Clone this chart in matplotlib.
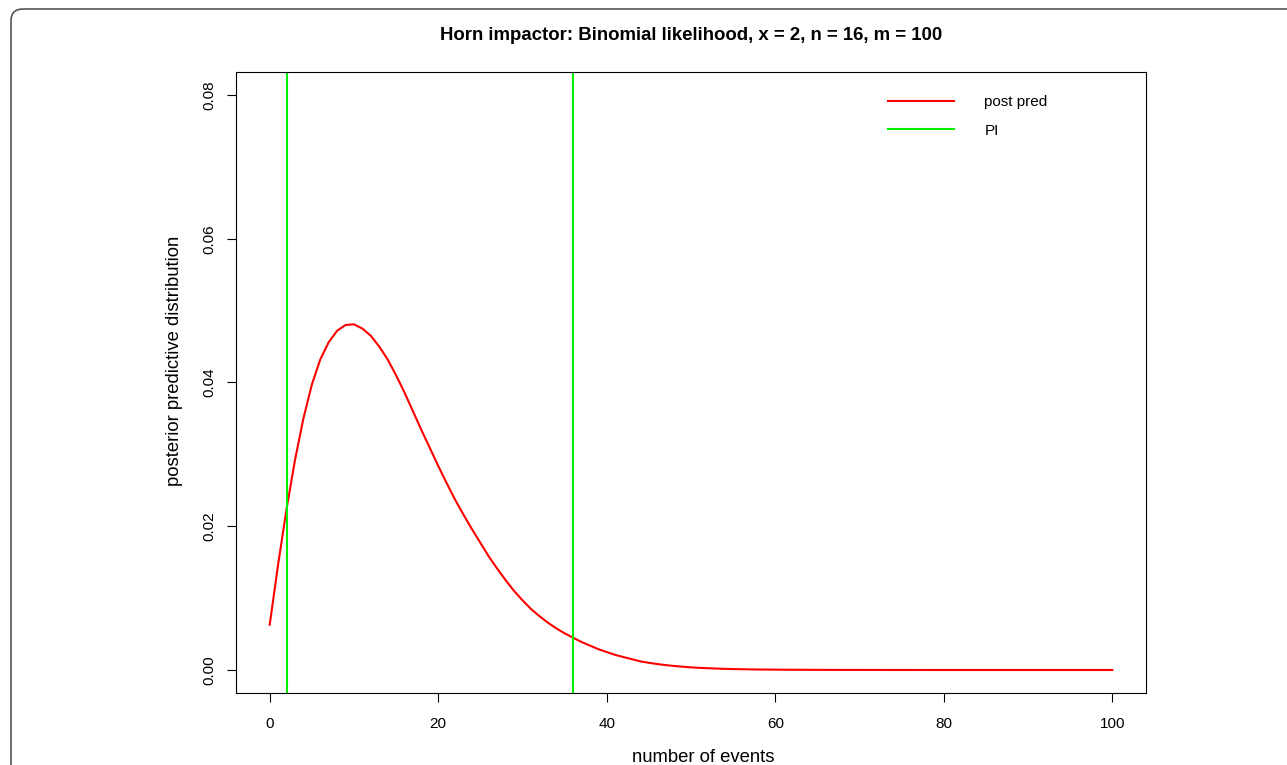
import matplotlib
matplotlib.use("Agg")
import matplotlib.pyplot as plt
from matplotlib.patches import FancyBboxPatch
from matplotlib.transforms import IdentityTransform

plt.rcParams['font.family'] = ['Liberation Sans', 'DejaVu Sans']

# number of events 0..100 and posterior predictive probability
events = list(range(0, 101))
post_pred = [
    0.0063, 0.0147, 0.0224, 0.0292, 0.0350, 0.0397, 0.0432, 0.0456, 0.0472, 0.0480,
    0.0481, 0.0475, 0.0465, 0.0450, 0.0432, 0.0410, 0.0386, 0.0360, 0.0334, 0.0309,
    0.0284, 0.0260, 0.0237, 0.0216, 0.0196, 0.0177, 0.0158, 0.0141, 0.0125, 0.0110,
    0.0097, 0.0085, 0.0075, 0.0066, 0.0058, 0.0051, 0.0045, 0.0039, 0.0034, 0.0029,
    0.0025, 0.0021, 0.0018, 0.0015, 0.0012, 0.0010, 0.00083, 0.00068, 0.00056, 0.00046,
    0.00037, 0.0003, 0.00025, 0.0002, 0.00016, 0.00013, 0.00011, 0.00009, 0.00007, 0.00006,
    0.00005, 0.00004, 0.000035, 0.00003, 0.000025, 0.00002, 0.000016, 0.000013, 0.00001, 0.000008,
    0.000007, 0.000006, 0.000005, 0.000004, 0.000003, 0.000003, 0.000002, 0.000002, 0.000002, 0.000001,
    0.000001, 0.000001, 0.000001, 0.000001, 0.0, 0.0, 0.0, 0.0, 0.0, 0.0,
    0.0, 0.0, 0.0, 0.0, 0.0, 0.0, 0.0, 0.0, 0.0, 0.0, 0.0,
]
pi_bounds = [2, 36]

x_ticks = [0, 20, 40, 60, 80, 100]
y_ticks = [0.00, 0.02, 0.04, 0.06, 0.08]

fig = plt.figure(figsize=(12.87, 7.65), dpi=100)

# rounded frame around the figure (runs off the right and bottom edge), pixel coords
frame = FancyBboxPatch((11, -100), 1400, 765 - 9 + 100,
                       boxstyle="round,pad=0,rounding_size=12",
                       transform=IdentityTransform(), fill=False,
                       edgecolor="#555555", linewidth=1.2)
fig.patches.append(frame)

ax = fig.add_axes([236 / 1287, 1 - 693 / 765, 910 / 1287, 621 / 765])

ax.plot(events, post_pred, color="red", linewidth=1.5, label="post pred")
for i, b in enumerate(pi_bounds):
    ax.axvline(b, color="#00ee00", linewidth=1.5, label="PI" if i == 0 else None)

ax.set_xlim(-4, 104)
ax.set_ylim(-0.0032, 0.0832)
ax.set_xticks(x_ticks)
ax.set_xticklabels([str(v) for v in x_ticks])
ax.set_yticks(y_ticks)
ax.set_yticklabels([f"{v:.2f}" for v in y_ticks], rotation=90, va="center")
ax.tick_params(axis="both", direction="out", length=6.5, width=0.8, labelsize=11)
ax.tick_params(axis="x", pad=11)
ax.tick_params(axis="y", pad=7.5)
for s in ax.spines.values():
    s.set_linewidth(0.8)

ax.set_xlabel("number of events", fontsize=13.3, labelpad=12.5)
ax.set_ylabel("posterior predictive distribution", fontsize=13.3, labelpad=14)
ax.xaxis.label.set_x((703 - 236) / 910)
ax.yaxis.label.set_y((693 - 361) / 621)
fig.text(691 / 1287, 1 - 36 / 765, "Horn impactor: Binomial likelihood, x = 2, n = 16, m = 100",
         ha="center", va="center", fontsize=13.4, fontweight="bold")

ax.legend(loc="upper left", bbox_to_anchor=((888 - 236) / 910, (693 - 95) / 621),
          frameon=False, fontsize=11, handlelength=4.3, handletextpad=2.0,
          borderpad=0, borderaxespad=0, labelspacing=0.95)

fig.savefig("out.png", dpi=100)
